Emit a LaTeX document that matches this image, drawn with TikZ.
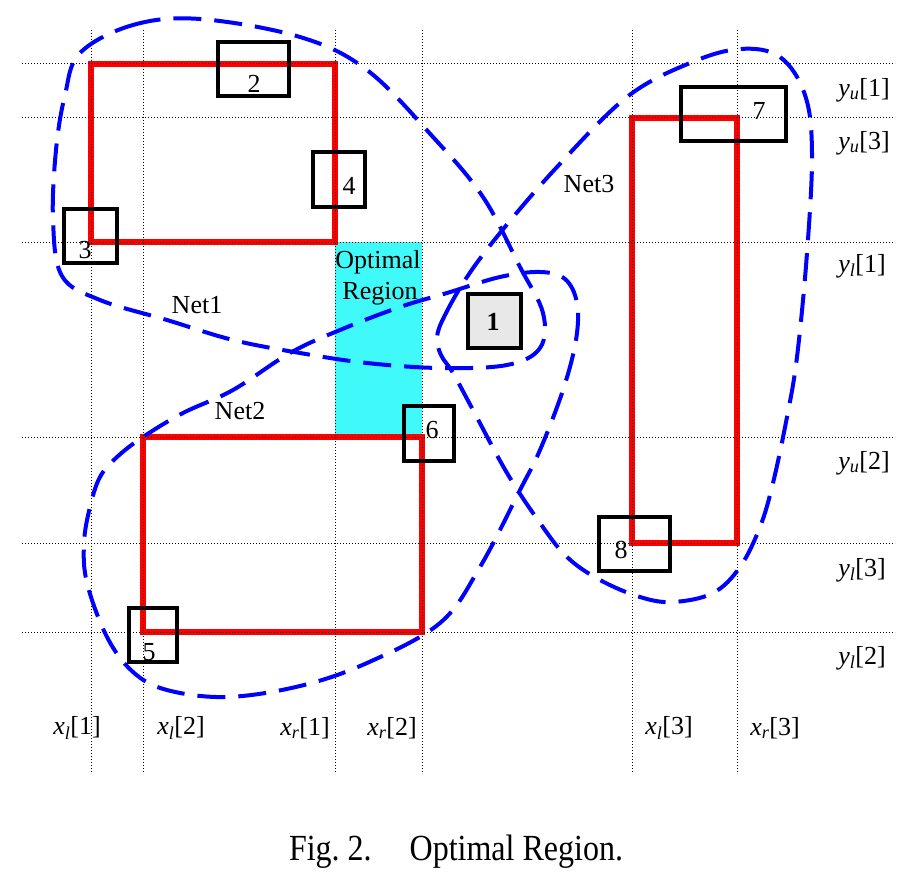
\documentclass[tikz,border=0pt]{standalone}
\usepackage{fontspec}
\setmainfont{Liberation Serif}
\newcommand{\sbl}[3]{\textit{#1}\textsubscript{\textit{#2}}[#3]}
\definecolor{optcyan}{RGB}{64,250,250}
\definecolor{netred}{RGB}{255,0,0}
\definecolor{netblue}{RGB}{0,0,255}
\tikzset{
  grid line/.style={black, line width=1pt, dash pattern=on 1pt off 2pt},
  netrect/.style={netred, line width=5.5pt},
  cell/.style={draw=black, line width=3.5pt, fill=none, inner sep=0pt},
  netcurve/.style={netblue, line width=4pt, dash pattern=on 28pt off 13pt},
  txt/.style={font=\fontsize{26}{30}\selectfont, inner sep=0pt},
  num/.style={font=\fontsize{26}{30}\selectfont, inner sep=0pt},
}
\begin{document}
\begin{tikzpicture}[x=1pt,y=-1pt]
\path[use as bounding box] (0,0) rectangle (918,896);
% optimal region
\fill[optcyan] (335,242) rectangle (422,437);
% net bounding boxes
\draw[netrect] (91,64) rectangle (335,242);
\draw[netrect] (143,437) rectangle (422,632);
\draw[netrect] (632,118) rectangle (737,543);
% grid
\foreach \gx in {91,143,335,422,632,737} \draw[grid line] (\gx,30) -- (\gx,774);
\foreach \gy in {64,118,242,437,543,632} \draw[grid line] (22,\gy) -- (895,\gy);
% cells
\node[cell, minimum width=71pt, minimum height=54pt] (c2) at (253.5,69) {};
\node[cell, minimum width=52pt, minimum height=55pt] (c4) at (339,179.5) {};
\node[cell, minimum width=53pt, minimum height=54pt] (c3) at (90.5,236) {};
\node[cell, minimum width=53pt, minimum height=54pt, line width=4pt, fill=gray!18] (c1) at (494.5,321) {};
\node[cell, minimum width=105pt, minimum height=54pt] (c7) at (733.5,114) {};
\node[cell, minimum width=50pt, minimum height=55pt] (c6) at (429,433.5) {};
\node[cell, minimum width=48pt, minimum height=54pt] (c5) at (153,635) {};
\node[cell, minimum width=71pt, minimum height=54pt] (c8) at (634.5,544) {};
% cell numbers
\node[num] (n2) at (254,84) {2};
\node[num] (n4) at (349,186) {4};
\node[num] (n3) at (85,250) {3};
\node[num, font=\fontsize{26}{30}\selectfont\bfseries] (n1) at (493,322) {1};
\node[num] (n7) at (759,111) {7};
\node[num] (n6) at (432,430) {6};
\node[num] (n5) at (149,652) {5};
\node[num] (n8) at (621,550) {8};
% net curves
\draw[netcurve] plot[smooth cycle, tension=0.6] coordinates {
 (80,53) (133,25) (200,19) (300,37) (367,70) (433,137) (483,197) (520,267)
 (543,313) (540,348) (507,365) (440,368) (367,363) (300,353) (233,340)
 (167,320) (100,300) (62,276) (53,220) (56,150) (65,95)};
\draw[netcurve] plot[smooth cycle, tension=0.6] coordinates {
 (143,437) (183,413) (233,390) (290,353) (340,330) (400,307) (447,293)
 (500,277) (540,272) (565,279) (577,303) (576,340) (563,390) (540,450)
 (520,490) (480,567) (440,623) (367,663) (300,686) (227,697) (167,690)
 (133,672) (107,637) (87,583) (84,543) (90,507) (100,477) (117,457)};
\draw[netcurve] plot[smooth cycle, tension=0.6] coordinates {
 (437,337) (445,315) (467,277) (500,233) (557,167) (627,97) (690,63)
 (740,49) (780,57) (805,95) (812,153) (807,253) (797,357) (787,417)
 (773,483) (760,527) (740,567) (713,593) (673,602) (640,597) (600,580)
 (567,557) (540,523) (507,473) (473,410) (453,373) (441,355)};
% texts
\node[txt] (net1) at (197,305) {Net1};
\node[txt] (net2) at (240,411) {Net2};
\node[txt] (net3) at (589,184) {Net3};
\node[txt, anchor=base] (opt1) at (378,268) {Optimal};
\node[txt, anchor=base] (opt2) at (380,299) {Region};
\node[txt] (yu1) at (864,90) {\sbl{y}{u}{1}};
\node[txt] (yu3) at (864,143) {\sbl{y}{u}{3}};
\node[txt] (yl1) at (862,266) {\sbl{y}{l}{1}};
\node[txt] (yu2) at (864,463) {\sbl{y}{u}{2}};
\node[txt] (yl3) at (862,570) {\sbl{y}{l}{3}};
\node[txt] (yl2) at (862,658) {\sbl{y}{l}{2}};
\node[txt] (xl1) at (77,728) {\sbl{x}{l}{1}};
\node[txt] (xl2) at (181,728) {\sbl{x}{l}{2}};
\node[txt] (xr1) at (305,728) {\sbl{x}{r}{1}};
\node[txt] (xr2) at (392,728) {\sbl{x}{r}{2}};
\node[txt] (xl3) at (669,728) {\sbl{x}{l}{3}};
\node[txt] (xr3) at (775,728) {\sbl{x}{r}{3}};
\node[txt, anchor=base, font=\fontsize{32}{36}\selectfont] (cap) at (456,860) {\scalebox{1}[1.15]{Fig.~2.\hspace{38pt}Optimal Region.}};
\end{tikzpicture}
\end{document}
